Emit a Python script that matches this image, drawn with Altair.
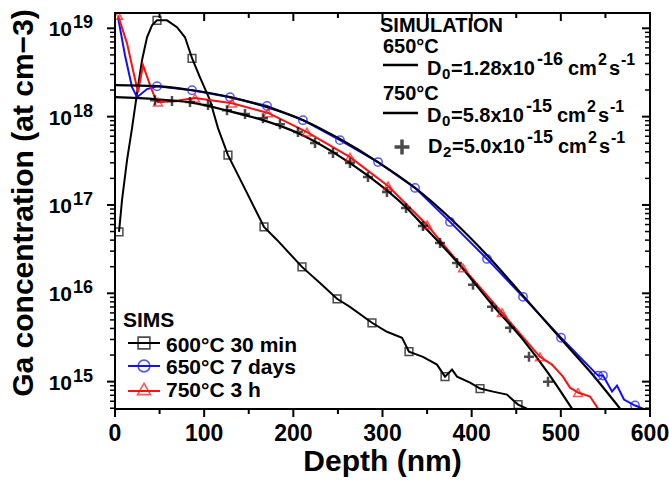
import altair as alt
import pandas as pd

# ---------------- data ----------------
sims600_depth = [4.5, 7.9, 13.5, 19.1, 24.7, 30.3, 35.9, 41.5, 47.1, 58.3, 69.5, 78.5, 86.4, 95.3,
                 106.5, 115.5, 126.7, 148, 167.1, 181.7, 209.7, 229.9, 249, 263.5, 288.2, 305,
                 321.9, 329.7, 345.4, 361.1, 370.1, 378, 383.6, 398.2, 409.4, 424, 439.6, 452, 462]
sims600_conc = [4.95e16, 1.14e17, 3.22e17, 7.41e17, 1.84e18, 4.35e18, 7.91e18, 1.08e19, 1.23e19,
                1.23e19, 1.03e19, 7.91e18, 4.58e18, 2.79e18, 1.54e18, 7.41e17, 3.67e17, 1.37e17,
                5.64e16, 4.02e16, 1.99e16, 1.31e16, 8.67e15, 7.03e15, 4.64e15, 3.67e15, 3.14e15,
                2.18e15, 1.91e15, 1.56e15, 1.14e15, 1.37e15, 1.14e15, 9.75e14, 8.34e14, 7.71e14,
                7.13e14, 5.50e14, 4.95e14]
sims600_mark_depth = [4.5, 47.1, 86.4, 126.7, 167.1, 209.7, 249, 288.2, 329.7, 370.1, 409.4, 452]
sims600_mark_conc = [4.95e16, 1.23e19, 4.58e18, 3.67e17, 5.64e16, 1.99e16, 8.67e15, 4.64e15,
                     2.18e15, 1.14e15, 8.34e14, 5.50e14]

sims650_depth = [3.4, 11.2, 19.1, 24.7, 35.9, 47.1, 86.4, 129, 170.5, 210.8, 252.3, 295, 336.5,
                 375.7, 417.2, 457.6, 500.2, 541.7, 547.3, 557.4, 563, 570.8, 583.2, 592.2]
sims650_conc = [1.33e19, 4.95e18, 2.15e18, 1.66e18, 2.05e18, 2.21e18, 1.99e18, 1.66e18, 1.32e18,
                9.12e17, 5.42e17, 3.06e17, 1.56e17, 6.43e16, 2.45e16, 9.12e15, 3.14e15, 1.17e15,
                1.17e15, 7.71e14, 9.02e14, 6.27e14, 5.36e14, 4.95e14]
sims650_mark_depth = [47.1, 86.4, 129, 170.5, 210.8, 252.3, 295, 336.5, 375.7, 417.2, 457.6,
                      500.2, 541.7, 547.3, 583.2]
sims650_mark_conc = [2.21e18, 1.99e18, 1.66e18, 1.32e18, 9.12e17, 5.42e17, 3.06e17, 1.56e17,
                     6.43e16, 2.45e16, 9.12e15, 3.14e15, 1.17e15, 1.17e15, 5.36e14]

sims750_depth = [3.4, 13.5, 20.2, 25.8, 31.4, 39.3, 44.9, 48.2, 67.3, 89.7, 131.2, 171.6, 215.3,
                 263.6, 306.2, 350, 390.3, 434, 476.6, 490, 502.4, 510.3, 519.3, 532.7, 541.7]
sims750_conc = [1.40e19, 6.76e18, 3.35e18, 1.89e18, 3.82e18, 2.27e18, 1.62e18, 1.46e18, 1.50e18,
                1.62e18, 1.42e18, 1.10e18, 6.68e17, 3.48e17, 1.64e17, 5.94e16, 1.94e16, 6.03e15,
                1.91e15, 1.56e15, 1.14e15, 8.55e14, 7.52e14, 6.78e14, 4.95e14]
sims750_mark_depth = [3.4, 48.2, 89.7, 131.2, 171.6, 215.3, 263.6, 306.2, 350, 390.3, 434,
                      476.6, 519.3]
sims750_mark_conc = [1.40e19, 1.46e18, 1.62e18, 1.42e18, 1.10e18, 6.68e17, 3.48e17, 1.64e17,
                     5.94e16, 1.94e16, 6.03e15, 1.91e15, 7.52e14]

sim650_depth = [0, 47.1, 86.4, 129, 170.5, 211, 252.3, 294.9, 336.5, 378, 416, 457.6, 499,
                532.7, 566.4]
sim650_conc = [2.27e18, 2.21e18, 1.99e18, 1.66e18, 1.28e18, 9.12e17, 5.57e17, 3.06e17, 1.56e17,
               6.76e16, 2.79e16, 9.38e15, 3.14e15, 1.30e15, 4.95e14]

sim750_depth = [0, 47, 86, 126, 166, 205, 244.5, 284, 326, 345, 383.5, 424, 457.5, 485.6, 512.5]
sim750_conc = [1.66e18, 1.57e18, 1.44e18, 1.17e18, 9.12e17, 6.52e17, 3.97e17, 2.13e17, 9.48e16,
               5.94e16, 2.27e16, 7.23e15, 2.99e15, 1.26e15, 4.95e14]

d2_depth = [44.9, 63.9, 84.1, 104.3, 125.6, 145.8, 166, 185, 205.2, 224.3, 244.5, 263.5, 283.7,
            305, 326.4, 345.4, 364.5, 383.6, 401.5, 422.8, 443, 464.3, 485.6]
d2_conc = [1.53e18, 1.50e18, 1.46e18, 1.35e18, 1.18e18, 1.07e18, 9.61e17, 8.22e17, 6.68e17,
           5.02e17, 3.87e17, 2.99e17, 2.07e17, 1.40e17, 9.25e16, 5.79e16, 3.72e16, 2.21e16,
           1.25e16, 7.03e15, 4.07e15, 1.91e15, 1.00e15]

x_major_ticks = [0, 100, 200, 300, 400, 500, 600]
x_tick_labels = ["0", "100", "200", "300", "400", "500", "600"]
x_minor_ticks = [50, 150, 250, 350, 450, 550]
decades = [1e15, 1e16, 1e17, 1e18, 1e19]
decade_exponents = ["15", "16", "17", "18", "19"]
y_minor_ticks = [float(m) * 10.0 ** e for e in range(14, 20) for m in range(2, 10)
                 if 4.9e14 <= m * 10 ** e <= 1.49e19]

x_title = "Depth (nm)"
y_title = "Ga concentration (at cm\u22123)"

# ---------------- layout / style ----------------
W, H = 535, 396
PL, PT = 115, 13
FONT = "Liberation Sans"
BLUE = "#1010ff"
RED = "#ff1010"
PLUS = "M-1,0L1,0M0,-1L0,1"
MAJ, MIN = 8, 5

x_scale = alt.Scale(domain=[0, 600], nice=False, zero=False)
y_scale = alt.Scale(type="log", domain=[4.9e14, 1.49e19], nice=False)


def series(depth, conc):
    return pd.DataFrame({"depth": depth, "conc": conc})


def enc(chart):
    return chart.encode(
        x=alt.X("depth:Q", scale=x_scale, axis=None),
        y=alt.Y("conc:Q", scale=y_scale, axis=None),
        order="depth:Q",
    )


one = pd.DataFrame({"k": [0]})
layers = []

# SIMS lines
layers.append(enc(alt.Chart(series(sims600_depth, sims600_conc)).mark_line(
    color="black", strokeWidth=2, clip=True)))
layers.append(enc(alt.Chart(series(sims650_depth, sims650_conc)).mark_line(
    color=BLUE, strokeWidth=2, clip=True)))
layers.append(enc(alt.Chart(series(sims750_depth, sims750_conc)).mark_line(
    color=RED, strokeWidth=2, clip=True)))
# simulation lines
layers.append(enc(alt.Chart(series(sim650_depth, sim650_conc)).mark_line(
    color="black", strokeWidth=2.2, interpolate="monotone", clip=True)))
layers.append(enc(alt.Chart(series(sim750_depth, sim750_conc)).mark_line(
    color="black", strokeWidth=2.2, interpolate="monotone", clip=True)))
# markers
layers.append(enc(alt.Chart(series(sims600_mark_depth, sims600_mark_conc)).mark_point(
    shape="square", size=60, filled=False, color="black", strokeWidth=1.5, clip=True)))
layers.append(enc(alt.Chart(series(sims650_mark_depth, sims650_mark_conc)).mark_point(
    shape="circle", size=70, filled=False, color=BLUE, strokeWidth=1.5, clip=True)))
layers.append(enc(alt.Chart(series(sims750_mark_depth, sims750_mark_conc)).mark_point(
    shape="triangle-up", size=80, filled=False, color=RED, strokeWidth=1.5, clip=True)))
layers.append(enc(alt.Chart(series(d2_depth, d2_conc)).mark_point(
    shape=PLUS, size=100, filled=False, color="black", strokeWidth=2.5, clip=True)))

# plot frame
layers.append(alt.Chart(one).mark_rect(
    fillOpacity=0, stroke="black", strokeWidth=2).encode(
    x=alt.value(0), x2=alt.value(W), y=alt.value(0), y2=alt.value(H)))


# tick marks (tick marks are small rects, placed through the shared scales)
def xticks(values, ycenter, length, thick):
    return alt.Chart(pd.DataFrame({"tick": values})).mark_tick(
        color="black", size=length, thickness=thick, opacity=1).encode(
        x=alt.X("tick:Q", scale=x_scale, axis=None), y=alt.value(ycenter))


def yticks(values, xcenter, length, thick):
    return alt.Chart(pd.DataFrame({"tick": values})).mark_tick(
        color="black", size=length, thickness=thick, opacity=1).encode(
        y=alt.Y("tick:Q", scale=y_scale, axis=None), x=alt.value(xcenter))


layers += [
    xticks(x_major_ticks, H + MAJ / 2, MAJ, 2), xticks(x_minor_ticks, H + MIN / 2, MIN, 2),
    xticks(x_major_ticks, MAJ / 2, MAJ, 2), xticks(x_minor_ticks, MIN / 2, MIN, 2),
    yticks(decades, -MAJ / 2, MAJ, 2), yticks(y_minor_ticks, -MIN / 2, MIN, 1.5),
    yticks(decades, W - MAJ / 2, MAJ, 2), yticks(y_minor_ticks, W - MIN / 2, MIN, 1.5),
]

# x tick labels
layers.append(alt.Chart(pd.DataFrame({"v": x_major_ticks, "lab": x_tick_labels})).mark_text(
    align="center", baseline="alphabetic", font=FONT, fontSize=23, fontWeight="bold",
    color="black").encode(
    x=alt.X("v:Q", scale=x_scale, axis=None), y=alt.value(H + 32), text="lab:N"))

# y tick labels 10^n
dec_df = pd.DataFrame({"conc": decades, "exp": decade_exponents})
layers.append(alt.Chart(dec_df).mark_text(
    align="right", baseline="alphabetic", font=FONT, fontSize=21, fontWeight="bold",
    color="black", dy=8).encode(
    x=alt.value(-43), y=alt.Y("conc:Q", scale=y_scale, axis=None), text=alt.value("10")))
layers.append(alt.Chart(dec_df).mark_text(
    align="left", baseline="alphabetic", font=FONT, fontSize=18, fontWeight="bold",
    color="black", dy=0).encode(
    x=alt.value(-42), y=alt.Y("conc:Q", scale=y_scale, axis=None), text="exp:N"))

# axis titles
layers.append(alt.Chart(one).mark_text(
    text=x_title, align="center", baseline="alphabetic", font=FONT, fontSize=30,
    fontWeight="bold", color="black").encode(x=alt.value(W / 2), y=alt.value(H + 62)))
layers.append(alt.Chart(one).mark_text(
    text=y_title, angle=270, align="center", baseline="alphabetic", font=FONT, fontSize=30,
    fontWeight="bold", color="black").encode(x=alt.value(-82), y=alt.value(190)))


def txt(s, x, y, size):
    return alt.Chart(one).mark_text(
        text=s, align="left", baseline="alphabetic", font=FONT, fontSize=size,
        fontWeight="bold", color="black").encode(x=alt.value(x - PL), y=alt.value(y - PT))


def seg(x1, x2, y, color, width=2):
    return alt.Chart(one).mark_rule(color=color, strokeWidth=width).encode(
        x=alt.value(x1 - PL), x2=alt.value(x2 - PL), y=alt.value(y - PT))


def sym(x, y, shape, size, color, width=1.6):
    return alt.Chart(one).mark_point(
        shape=shape, size=size, filled=False, color=color, strokeWidth=width).encode(
        x=alt.value(x - PL), y=alt.value(y - PT))


# SIMULATION legend
layers += [
    txt("SIMULATION", 380, 32, 20),
    txt("650\u00b0C", 383, 53, 20),
    seg(383, 418, 65, "black", 2.5),
    txt("D", 427, 75, 20), txt("0", 442, 79, 15), txt("=1.28x10", 451, 75, 20),
    txt("-16", 537, 65, 18), txt("cm", 568, 75, 20), txt("2", 598, 65, 16),
    txt("s", 609, 75, 20), txt("-1", 621, 65, 16),
    txt("750\u00b0C", 383, 100, 20),
    seg(383, 418, 113, "black", 2.5),
    txt("D", 427, 122, 20), txt("0", 442, 126, 15), txt("=5.8x10", 451, 122, 20),
    txt("-15", 526, 112, 18), txt("cm", 557, 122, 20), txt("2", 587, 112, 16),
    txt("s", 598, 122, 20), txt("-1", 610, 112, 16),
    sym(402, 147, PLUS, 220, "black", 3.5),
    txt("D", 428, 153, 20), txt("2", 443, 157, 15), txt("=5.0x10", 452, 153, 20),
    txt("-15", 527, 143, 18), txt("cm", 558, 153, 20), txt("2", 588, 143, 16),
    txt("s", 599, 153, 20), txt("-1", 611, 143, 16),
]

# SIMS legend
layers += [
    txt("SIMS", 123, 327, 21),
    seg(128, 160, 343, "black", 2), sym(144, 343, "square", 140, "black"),
    txt("600\u00b0C 30 min", 166, 352, 21),
    seg(128, 160, 366, BLUE, 2), sym(144, 366, "circle", 140, BLUE),
    txt("650\u00b0C 7 days", 166, 374, 21),
    seg(128, 160, 391, RED, 2), sym(144, 389, "triangle-up", 170, RED),
    txt("750\u00b0C 3 h", 166, 397, 21),
]

chart = alt.layer(*layers).properties(
    width=W, height=H,
    autosize=alt.AutoSizeParams(type="none"),
    padding={"left": PL, "top": PT, "right": 669 - PL - W, "bottom": 483 - PT - H},
    background="white",
).configure_view(strokeWidth=0)

chart.save("out.html", embed_options={"renderer": "svg", "actions": False})
